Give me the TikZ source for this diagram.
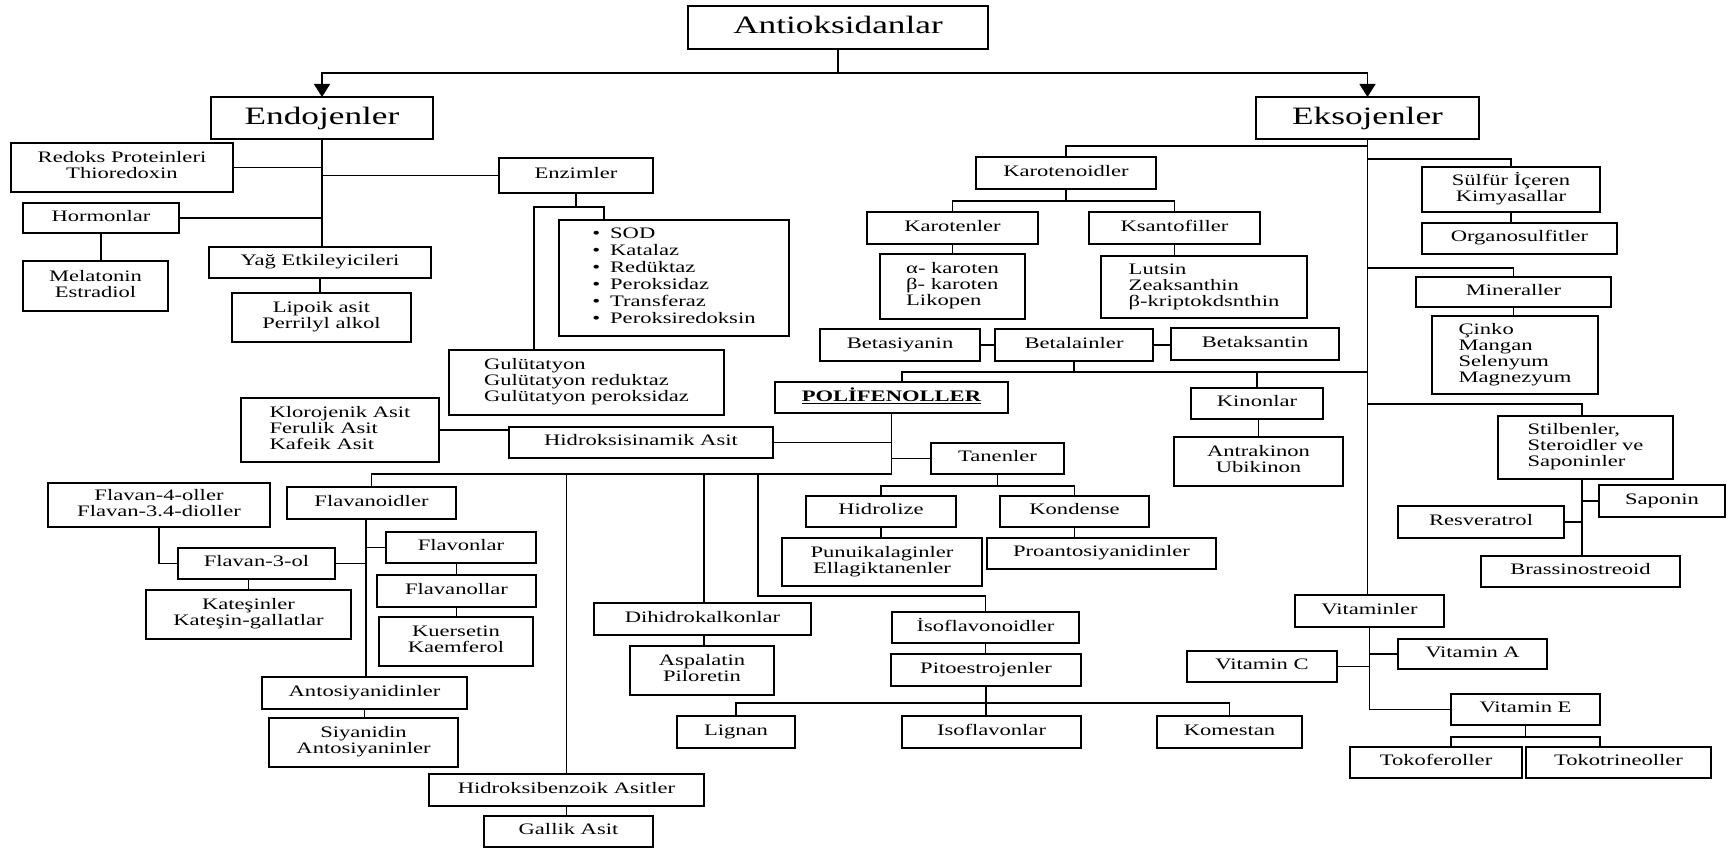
\documentclass[tikz,border=0pt]{standalone}
\usepackage{fontspec}
\setmainfont{Liberation Serif}
\usepackage{graphicx}
\usetikzlibrary{arrows.meta}
\renewcommand\arraystretch{1}
\newcommand\bx[7][c]{\node[bx, minimum width={(#5-#3)*1pt}, minimum height={(#6-#4)*1pt}] (#2) at ({(#3+#5)/2},{(#4+#6)/2}) {\scalebox{1.41}[1]{\begin{tabular}{@{}#1@{}}#7\end{tabular}}};}
\newcommand\bigtxt{\fontsize{25}{25}\selectfont}
\begin{document}
\begin{tikzpicture}[x=1pt,y=-1pt, font=\fontsize{16}{16}\selectfont, line width=1.5pt,
 bx/.style={draw, line width=1.7pt, inner sep=0pt, outer sep=0pt},
 arr/.style={-{Triangle[length=13pt,width=16pt]}}]
\useasboundingbox (0,0) rectangle (1731,850);
% boxes
\bx{anti}{688}{6}{988}{49}{\bigtxt Antioksidanlar}
\bx{endo}{211}{97}{433}{139}{\bigtxt Endojenler}
\bx{eks}{1256}{97}{1479}{139}{\bigtxt Eksojenler}
\bx{redoks}{11}{143}{233}{192}{Redoks Proteinleri\\Thioredoxin}
\bx{enz}{499}{158}{653}{193}{Enzimler}
\bx{horm}{23}{203}{179}{233}{Hormonlar}
\bx{mel}{23}{261}{168}{311}{Melatonin\\Estradiol}
\bx{yag}{209}{247}{431}{278}{Yağ Etkileyicileri}
\bx{lip}{232}{293}{411}{342}{Lipoik asit\\Perrilyl alkol}
\bx{sod}{559}{220}{789}{336}{\fontsize{16}{17}\selectfont\begin{tabular}{@{}l@{\hspace{7pt}}l@{}}\textbullet&SOD\\\textbullet&Katalaz\\\textbullet&Redüktaz\\\textbullet&Peroksidaz\\\textbullet&Transferaz\\\textbullet&Peroksiredoksin\end{tabular}}
\bx[l]{gulu}{449}{350}{724}{415}{Gulütatyon\\Gulütatyon reduktaz\\Gulütatyon peroksidaz}
\bx[l]{klo}{241}{398}{439}{462}{Klorojenik Asit\\Ferulik Asit\\Kafeik Asit}
\bx{hsa}{509}{427}{773}{458}{Hidroksisinamik Asit}
\bx{poli}{775}{382}{1008}{413}{\underline{\textbf{POLİFENOLLER}}}
\bx{tan}{931}{443}{1064}{474}{Tanenler}
\bx{hid}{806}{496}{956}{527}{Hidrolize}
\bx{kon}{1000}{496}{1149}{527}{Kondense}
\bx{pun}{782}{538}{982}{586}{Punuikalaginler\\Ellagiktanenler}
\bx{pro}{987}{538}{1216}{569}{Proantosiyanidinler}
\bx{fl4}{48}{483}{270}{527}{Flavan-4-oller\\Flavan-3.4-dioller}
\bx{flv}{287}{487}{456}{519}{Flavanoidler}
\bx{flo}{386}{532}{536}{563}{Flavonlar}
\bx{fl3}{178}{548}{335}{579}{Flavan-3-ol}
\bx{kat}{146}{590}{351}{639}{Kateşinler\\Kateşin-gallatlar}
\bx{fla}{377}{575}{536}{607}{Flavanollar}
\bx{kue}{379}{617}{533}{666}{Kuersetin\\Kaemferol}
\bx{ant}{262}{677}{467}{709}{Antosiyanidinler}
\bx{siy}{269}{718}{458}{767}{Siyanidin\\Antosiyaninler}
\bx{hba}{429}{774}{704}{806}{Hidroksibenzoik Asitler}
\bx{gal}{484}{816}{653}{847}{Gallik Asit}
\bx{dih}{594}{603}{811}{635}{Dihidrokalkonlar}
\bx{asp}{630}{646}{774}{695}{Aspalatin\\Piloretin}
\bx{isf}{892}{612}{1079}{643}{İsoflavonoidler}
\bx{pit}{891}{654}{1081}{686}{Pitoestrojenler}
\bx{lig}{677}{716}{795}{748}{Lignan}
\bx{isl}{902}{716}{1081}{748}{Isoflavonlar}
\bx{kom}{1157}{716}{1302}{748}{Komestan}
\bx{kar}{976}{157}{1156}{189}{Karotenoidler}
\bx{kte}{867}{212}{1038}{244}{Karotenler}
\bx{ksa}{1089}{212}{1260}{244}{Ksantofiller}
\bx[l]{alf}{880}{254}{1025}{319}{α- karoten\\β- karoten\\Likopen}
\bx[l]{lut}{1101}{256}{1307}{318}{Lutsin\\Zeaksanthin\\β-kriptokdsnthin}
\bx{bsy}{820}{329}{980}{361}{Betasiyanin}
\bx{bla}{995}{329}{1153}{361}{Betalainler}
\bx{bks}{1171}{328}{1339}{360}{Betaksantin}
\bx{kin}{1191}{388}{1323}{419}{Kinonlar}
\bx{atr}{1174}{437}{1343}{486}{Antrakinon\\Ubikinon}
\bx{sul}{1422}{167}{1600}{212}{Sülfür İçeren\\Kimyasallar}
\bx{org}{1422}{223}{1617}{254}{Organosulfitler}
\bx{min}{1416}{277}{1611}{307}{Mineraller}
\bx[l]{cin}{1432}{316}{1598}{394}{Çinko\\Mangan\\Selenyum\\Magnezyum}
\bx[l]{sti}{1498}{416}{1673}{479}{Stilbenler,\\Steroidler ve\\Saponinler}
\bx{sap}{1599}{485}{1725}{517}{Saponin}
\bx{res}{1398}{506}{1564}{538}{Resveratrol}
\bx{bra}{1481}{556}{1680}{587}{Brassinostreoid}
\bx{vit}{1295}{595}{1444}{627}{Vitaminler}
\bx{vta}{1398}{639}{1547}{669}{Vitamin A}
\bx{vtc}{1187}{651}{1337}{682}{Vitamin C}
\bx{vte}{1451}{694}{1600}{725}{Vitamin E}
\bx{tkf}{1350}{747}{1522}{778}{Tokoferoller}
\bx{tkt}{1526}{747}{1711}{778}{Tokotrineoller}
% top
\draw[arr] (anti.south) -- ++(0,24) -| (endo.north);
\draw[arr] (anti.south) -- ++(0,24) -| (eks.north);
% endojenler
\draw (endo.south) -- (endo.south |- yag.north);
\draw (redoks.east) -- (endo.south |- redoks.east);
\draw (enz.west) -- (endo.south |- enz.west);
\draw (horm.east) -- (endo.south |- horm.east);
\draw (horm.south) -- (horm.south |- mel.north);
\draw (yag.south) -- (yag.south |- lip.north);
\coordinate (ejl) at (534,207); \coordinate (ejr) at (604,207);
\draw (enz.south) -- (enz.south |- ejl);
\draw (ejl |- gulu.north) -- (ejl) -- (ejr) -- (ejr |- sod.north);
% polifenoller
\coordinate (pj) at (892,474);
\draw (poli.south) -- (poli.south |- pj);
\draw (hsa.east) -- (hsa.east -| pj);
\draw (tan.west) -- (tan.west -| pj);
\draw (pj) -- (pj -| flv.north) -- (flv.north);
\draw (pj -| hba.north) -- (hba.north);
\coordinate (d1) at (704,474);
\draw (d1) -- (d1 |- dih.north);
\draw (d1 |- dih.south) -- (d1 |- asp.north);
\coordinate (i1) at (758,474); \coordinate (i2) at (758,596);
\draw (i1) -- (i2) -| (isf.north);
\draw (isf.south) -- (isf.south |- pit.north);
\draw (pit.south) -- (pit.south |- isl.north);
\draw (pit.south) -- ++(0,17) -| (lig.north);
\draw (pit.south) -- ++(0,17) -| (kom.north);
\draw (tan.south) -- ++(0,12) -| (hid.north);
\draw (tan.south) -- ++(0,12) -| (kon.north);
\draw (hid.south) -- (hid.south |- pun.north);
\draw (kon.south) -- (kon.south |- pro.north);
\coordinate (fv) at (366,519);
\draw (fv) -- (fv |- ant.north);
\draw (flo.west) -- (flo.west -| fv);
\draw (fl3.east) -- (fl3.east -| fv);
\draw (fl4.south) |- (fl3.west);
\draw (kat.north) -- (kat.north |- fl3.south);
\draw (fla.north) -- (fla.north |- flo.south);
\draw (fla.south) -- (fla.south |- kue.north);
\draw (ant.south) -- (ant.south |- siy.north);
\draw (klo.east) -- (klo.east -| hsa.west);
\draw (hba.south) -- (hba.south |- gal.north);
% eksojenler
\coordinate (tk1) at (1368,146); \coordinate (tk2) at (1368,159);
\coordinate (tk3) at (1368,268); \coordinate (tk4) at (1368,372);
\coordinate (tk5) at (1368,404);
\draw (eks.south) -- (eks.south |- vit.north);
\draw (kar.north) |- (tk1);
\draw (kar.south) -- ++(0,12) -| (kte.north);
\draw (kar.south) -- ++(0,12) -| (ksa.north);
\draw (kte.south) -- (kte.south |- alf.north);
\draw (ksa.south) -- (ksa.south |- lut.north);
\draw (sul.north) |- (tk2);
\draw (sul.south) -- (sul.south |- org.north);
\draw (min.north) |- (tk3);
\draw (min.south) -- (min.south |- cin.north);
\draw (bsy.east) -- (bla.west);
\draw (bla.east) -- (bla.east -| bks.west);
\draw (bla.south) -- (bla.south |- tk4);
\coordinate (pn) at (902,372);
\draw (pn |- poli.north) -- (pn) -- (tk4);
\draw (kin.north) -- (kin.north |- tk4);
\draw (atr.north) -- (atr.north |- kin.south);
\coordinate (sx) at (1582,404);
\draw (tk5) -- (sx) -- (sx |- sti.north);
\draw (sx |- sti.south) -- (sx |- bra.north);
\draw (sap.west) -- (sap.west -| sx);
\draw (res.east) -- (res.east -| sx);
\draw (vit.south) |- (vte.west);
\draw (vta.west) -- (vta.west -| vit.south);
\draw (vtc.east) -- (vtc.east -| vit.south);
\coordinate (el) at (1451,737); \coordinate (er) at (1600,737);
\draw (vte.south) -- (vte.south |- el);
\draw (el |- tkf.north) -- (el) -- (er) -- (er |- tkt.north);
\end{tikzpicture}
\end{document}
